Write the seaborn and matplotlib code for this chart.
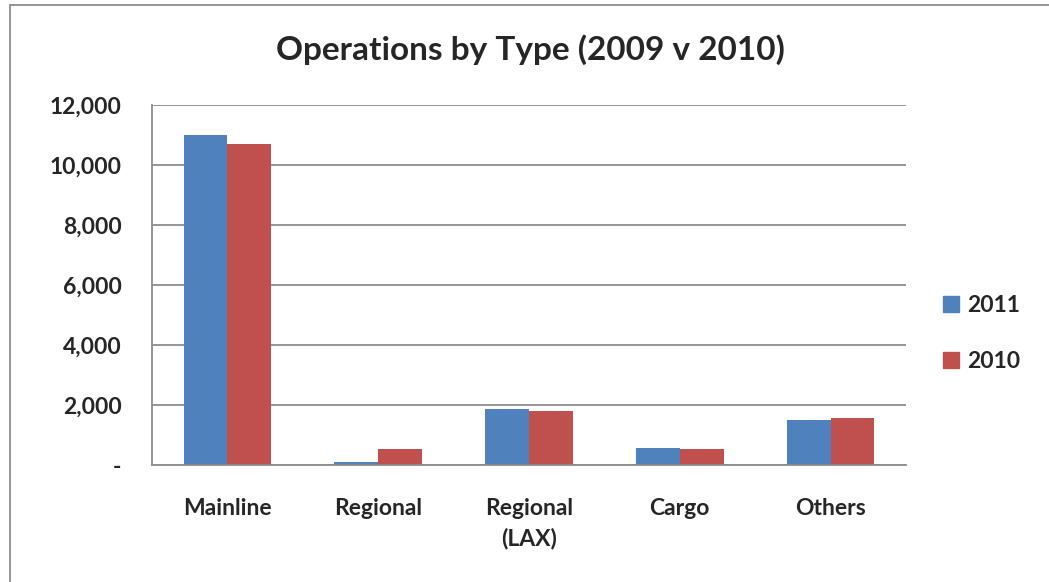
import matplotlib.pyplot as plt
import matplotlib as mpl
import numpy as np
import pandas as pd
import seaborn as sns

categories = ["Mainline", "Regional", "Regional\n(LAX)", "Cargo", "Others"]
ops_2011 = [11000, 100, 1855, 567, 1510]
ops_2010 = [10700, 530, 1810, 533, 1567]
years = ["2011", "2010"]
yticks = [0, 2000, 4000, 6000, 8000, 10000, 12000]
ytick_labels = ["-", "2,000", "4,000", "6,000", "8,000", "10,000", "12,000"]

df = pd.DataFrame({
    "type": categories * 2,
    "ops": ops_2011 + ops_2010,
    "year": [years[0]] * len(categories) + [years[1]] * len(categories),
})

sns.set_style("white")
plt.rcParams['font.family'] = ['Lato', 'DejaVu Sans']
plt.rcParams['font.weight'] = 'bold'

fig = plt.figure(figsize=(10.49, 5.82), dpi=100)
ax = fig.add_axes([152 / 1049, 1 - 465 / 582, (906 - 152) / 1049, (465 - 105) / 582])

sns.barplot(data=df, x="type", y="ops", hue="year", hue_order=years,
            palette=["#4F81BD", "#C0504D"], width=0.58, saturation=1,
            edgecolor="none", ax=ax)

ax.set_ylim(0, 12000)
ax.set_xlim(-0.5, 4.5)
ax.set_yticks(yticks)
ax.set_yticklabels(ytick_labels, fontsize=16.5, fontweight="bold")
ax.yaxis.grid(True, color="#8c8c8c", linewidth=1.3)
ax.set_axisbelow(True)

# category labels at centres, tick marks at boundaries
ax.set_xticks(range(len(categories)))
ax.set_xticklabels(categories, fontsize=16.5, fontweight="bold", linespacing=1.45)
ax.tick_params(axis="x", which="major", length=0, pad=24)
ax.set_xticks(np.arange(-0.5, len(categories)), minor=True)
ax.tick_params(axis="x", which="minor", length=5, width=1.2, color="#8c8c8c", direction="out")
ax.tick_params(axis="y", length=5, width=1.2, color="#8c8c8c", direction="out", pad=17)

for s in ["top", "right"]:
    ax.spines[s].set_visible(False)
for s in ["left", "bottom"]:
    ax.spines[s].set_color("#8c8c8c")
    ax.spines[s].set_linewidth(1.3)

ax.set_xlabel("")
ax.set_ylabel("")

sq = [mpl.lines.Line2D([], [], marker="s", linestyle="none", markersize=11,
                       color=c) for c in ["#4F81BD", "#C0504D"]]
ax.legend(sq, years, loc="center left", bbox_to_anchor=(1.02, 0.365), frameon=False,
          prop={"weight": "bold", "size": 16.5}, handletextpad=0.3, labelspacing=1.5,
          handlelength=0.8)

fig.text(530 / 1049, 1 - 50 / 582, "Operations by Type (2009 v 2010)",
         ha="center", va="center", fontsize=24, fontweight="bold")

# outer chart border
fig.patches.append(mpl.patches.Rectangle((10 / 1049, -0.05), 1.05, 1 - 5 / 582 + 0.05,
                                         transform=fig.transFigure, fill=False,
                                         edgecolor="#8c8c8c", linewidth=1.3))

plt.savefig("out.png", dpi=100)
